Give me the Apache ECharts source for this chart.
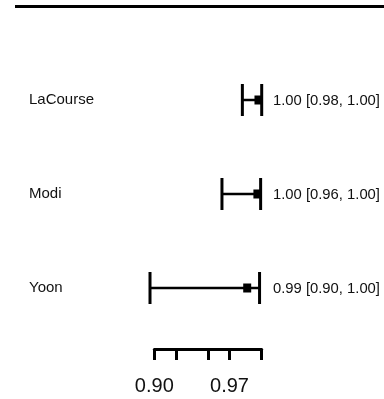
<!DOCTYPE html>
<html>
<head>
<meta charset="utf-8">
<script src="https://cdn.jsdelivr.net/npm/echarts@6/dist/echarts.min.js"></script>
<style>
    html, body { margin: 0; padding: 0; background: #fff; }
    #chart { width: 384px; height: 399px; }
</style>
</head>
<body>
<div id="chart"></div>
<script>
    // studies, top to bottom
    var studies = ['LaCourse', 'Modi', 'Yoon'];
    var estimates = [0.997, 0.996, 0.9865];
    var lowers = [0.982, 0.963, 0.896];
    var uppers = [1.000, 0.999, 0.998];

    var tickValues = [0.90, 0.92, 0.95, 0.97, 1.00];
    var tickLabels = [0.90, 0.97];

    var FONT = '"Liberation Sans", Arial, sans-serif';

    var rows = studies.map(function (name, i) {
        return [lowers[i], uppers[i], estimates[i], i];
    });

    function fmt(v) {
        return v.toFixed(2);
    }

    function renderCI(params, api) {
        var lo = api.coord([api.value(0), api.value(3)]);
        var hi = api.coord([api.value(1), api.value(3)]);
        var est = api.coord([api.value(2), api.value(3)]);
        var y = lo[1];
        var half = 16;
        var i = params.dataIndex;
        var label = fmt(estimates[i]) + ' [' + fmt(lowers[i]) + ', ' + fmt(uppers[i]) + ']';

        return {
            type: 'group',
            children: [
                {
                    type: 'line',
                    shape: { x1: lo[0], y1: y, x2: hi[0], y2: y },
                    style: { stroke: '#000', lineWidth: 2.5 }
                },
                {
                    type: 'line',
                    shape: { x1: lo[0], y1: y - half, x2: lo[0], y2: y + half },
                    style: { stroke: '#000', lineWidth: 3 }
                },
                {
                    type: 'line',
                    shape: { x1: hi[0], y1: y - half, x2: hi[0], y2: y + half },
                    style: { stroke: '#000', lineWidth: 3 }
                },
                {
                    type: 'rect',
                    shape: { x: est[0] - 4, y: y - 4.5, width: 8, height: 9 },
                    style: { fill: '#000' }
                },
                {
                    type: 'text',
                    x: 273,
                    y: y + 1,
                    style: {
                        text: label,
                        fill: '#111',
                        font: '14.8px ' + FONT,
                        textAlign: 'left',
                        textVerticalAlign: 'middle'
                    }
                }
            ]
        };
    }

    var chart = echarts.init(document.getElementById('chart'));
    chart.setOption({
        animation: false,
        backgroundColor: '#fff',
        grid: { left: 154.3, width: 107.4, top: 53, height: 282 },
        graphic: [{
            type: 'rect',
            shape: { x: 15, y: 5, width: 369, height: 3 },
            style: { fill: '#000' }
        }],
        xAxis: {
            type: 'value',
            min: 0.9,
            max: 1.0,
            offset: 14,
            splitLine: { show: false },
            axisLine: { show: true, lineStyle: { color: '#000', width: 3 } },
            axisTick: {
                show: true,
                length: 11,
                customValues: tickValues,
                lineStyle: { color: '#000', width: 3 }
            },
            axisLabel: {
                customValues: tickLabels,
                formatter: function (v) { return fmt(v); },
                color: '#111',
                fontFamily: FONT,
                fontSize: 20,
                margin: 27
            }
        },
        yAxis: {
            type: 'category',
            inverse: true,
            data: studies,
            axisLine: { show: false },
            axisTick: { show: false },
            splitLine: { show: false },
            axisLabel: {
                align: 'left',
                margin: 125.3,
                color: '#111',
                fontFamily: FONT,
                fontSize: 15
            }
        },
        series: [{
            type: 'custom',
            renderItem: renderCI,
            encode: { x: [0, 1, 2], y: 3 },
            data: rows
        }]
    });
</script>
</body>
</html>
